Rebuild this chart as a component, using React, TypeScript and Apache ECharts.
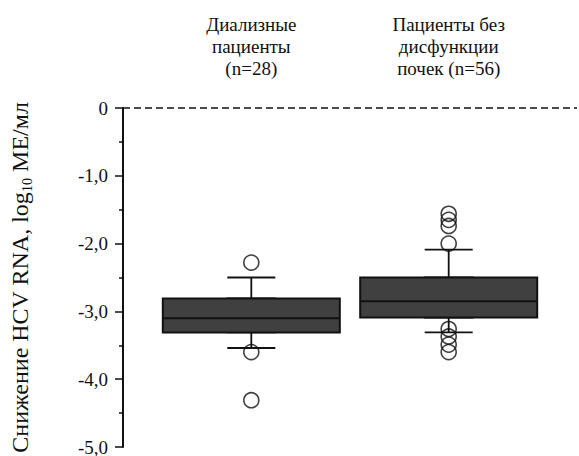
import React, { useEffect, useRef } from "react";
import * as echarts from "echarts";

// Group labels (drawn above the plot)
const categories: string[] = [
  "Диализные\nпациенты\n(n=28)",
  "Пациенты без\nдисфункции\nпочек (n=56)",
];
const groupPositions: number[] = [1, 2];

// Box statistics: [whiskerLow, Q1, median, Q3, whiskerHigh]
const dialysisStats: number[] = [-3.54, -3.31, -3.1, -2.81, -2.5];
const nonRenalStats: number[] = [-3.31, -3.09, -2.85, -2.5, -2.09];

// Outliers
const dialysisOutliers: number[] = [-2.28, -3.6, -4.31];
const nonRenalOutliers: number[] = [-1.56, -1.65, -1.74, -2.0, -3.26, -3.37, -3.49, -3.6];

// Y axis
const yMin = -5;
const yMax = 0;
const yInterval = 1;
const yTicks: number[] = [0, -1, -2, -3, -4, -5];
const yTickLabels: string[] = ["0", "-1,0", "-2,0", "-3,0", "-4,0", "-5,0"];
const yAxisTitle = "{a|Снижение HCV RNA, log}{s|10}{a| МЕ/мл}";
const referenceLevel = 0;

const FONT = "Liberation Serif";
const xMin = 0.35;
const xMax = 2.65;

export default function App() {
  const ref = useRef<HTMLDivElement>(null);

  useEffect(() => {
    if (!ref.current) return;
    const chart = echarts.init(ref.current, undefined, { renderer: "svg" });
    const statsAll = [dialysisStats, nonRenalStats];
    const whiskerData = statsAll.map((s, i) => [groupPositions[i], s[0], s[1], s[1], s[3], s[4]]);
    const boxData = statsAll.map((s, i) => [groupPositions[i], s[1], s[1], s[2], s[3], s[3]]);
    const outlierData: number[][] = [];
    dialysisOutliers.forEach((v) => outlierData.push([groupPositions[0], v]));
    nonRenalOutliers.forEach((v) => outlierData.push([groupPositions[1], v]));

    chart.setOption({
      animation: false,
      backgroundColor: "#ffffff",
      grid: { left: 113, right: 2, top: 108, bottom: 9 },
      xAxis: [
        {
          type: "value",
          min: xMin,
          max: xMax,
          position: "top",
          axisLine: { show: false },
          axisTick: { show: false },
          splitLine: { show: false },
          axisLabel: { show: false },
        },
        { type: "value", min: xMin, max: xMax, show: false, splitLine: { show: false } },
      ],
      yAxis: {
        type: "value",
        min: yMin,
        max: yMax,
        interval: yInterval,
        name: yAxisTitle,
        nameLocation: "middle",
        nameGap: 89,
        nameTextStyle: {
          rich: {
            a: { fontFamily: FONT, fontSize: 24, color: "#111", lineHeight: 28 },
            s: { fontFamily: FONT, fontSize: 14, color: "#111", lineHeight: 26, verticalAlign: "bottom" },
          },
        },
        axisLine: { show: true, lineStyle: { color: "#111", width: 2 } },
        axisTick: { show: true, length: 8, lineStyle: { color: "#111", width: 1.5 } },
        minorTick: { show: true, splitNumber: 2, length: 4, lineStyle: { color: "#111", width: 1.5 } },
        splitLine: { show: false },
        axisLabel: { show: false },
      },
      series: [
        {
          type: "boxplot",
          xAxisIndex: 1,
          data: whiskerData,
          boxWidth: [48, 48],
          itemStyle: { color: "#404040", borderColor: "#111", borderWidth: 1.8 },
          z: 2,
        },
        {
          type: "boxplot",
          xAxisIndex: 0,
          data: boxData,
          boxWidth: [177, 177],
          itemStyle: { color: "#404040", borderColor: "#111", borderWidth: 2 },
          z: 3,
        },
        {
          type: "scatter",
          xAxisIndex: 0,
          data: outlierData,
          symbol: "circle",
          symbolSize: 15,
          itemStyle: { color: "rgba(0,0,0,0)", borderColor: "#111", borderWidth: 1.6 },
          z: 4,
          markLine: {
            silent: true,
            symbol: "none",
            label: { show: false },
            lineStyle: { color: "#111", width: 1.6, type: [7, 4] },
            data: [{ yAxis: referenceLevel }],
          },
        },
      ],
    });

    // Tick and group labels placed through the chart's own scales
    const axisX = chart.convertToPixel({ xAxisIndex: 0 }, xMin) as number;
    const topY = chart.convertToPixel({ yAxisIndex: 0 }, yMax) as number;
    const tickTexts = yTicks.map((v, i) => ({
      type: "text",
      x: axisX - 15,
      y: chart.convertToPixel({ yAxisIndex: 0 }, v) as number,
      silent: true,
      style: {
        text: yTickLabels[i],
        fontFamily: FONT,
        fontSize: 19,
        fill: "#111",
        align: "right",
        verticalAlign: "middle",
      },
    }));
    const groupTexts = groupPositions.map((p, i) => ({
      type: "text",
      x: chart.convertToPixel({ xAxisIndex: 0 }, p) as number,
      y: topY - 29,
      silent: true,
      style: {
        text: categories[i],
        fontFamily: FONT,
        fontSize: 19,
        lineHeight: 22,
        fill: "#111",
        align: "center",
        verticalAlign: "bottom",
      },
    }));
    chart.setOption({ graphic: [...tickTexts, ...groupTexts] });

    return () => chart.dispose();
  }, []);

  return (
    <div
      ref={ref}
      style={{ position: "fixed", left: 0, top: 0, width: 579, height: 456 }}
    />
  );
}
